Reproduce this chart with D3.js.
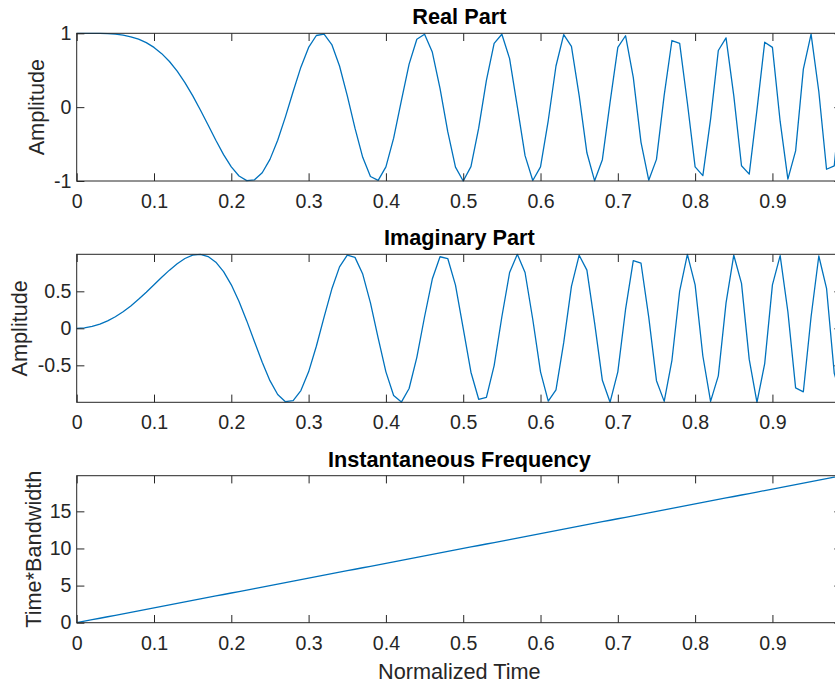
<!DOCTYPE html>
<html>
<head>
<meta charset="utf-8">
<script src="https://cdn.jsdelivr.net/npm/d3@7"></script>
<style>
  html, body { margin: 0; padding: 0; background: #fff; overflow: hidden; }
  svg { display: block; font-family: "Liberation Sans", Arial, Helvetica, sans-serif; }
</style>
</head>
<body>
<svg id="chart" width="835" height="684"></svg>
<script>
// ---- data ----
const time = [0,0.01,0.02,0.03,0.04,0.05,0.06,0.07,0.08,0.09,
  0.10,0.11,0.12,0.13,0.14,0.15,0.16,0.17,0.18,0.19,
  0.20,0.21,0.22,0.23,0.24,0.25,0.26,0.27,0.28,0.29,
  0.30,0.31,0.32,0.33,0.34,0.35,0.36,0.37,0.38,0.39,
  0.40,0.41,0.42,0.43,0.44,0.45,0.46,0.47,0.48,0.49,
  0.50,0.51,0.52,0.53,0.54,0.55,0.56,0.57,0.58,0.59,
  0.60,0.61,0.62,0.63,0.64,0.65,0.66,0.67,0.68,0.69,
  0.70,0.71,0.72,0.73,0.74,0.75,0.76,0.77,0.78,0.79,
  0.80,0.81,0.82,0.83,0.84,0.85,0.86,0.87,0.88,0.89,
  0.90,0.91,0.92,0.93,0.94,0.95,0.96,0.97,0.98,0.99];

const realPart = [1,1.0000,0.9997,0.9984,0.9950,0.9877,0.9745,0.9530,0.9202,0.8733,
  0.8090,0.7244,0.6180,0.4872,0.3328,0.1564,-0.0377,-0.2426,-0.4484,-0.6423,
  -0.8090,-0.9321,-0.9950,-0.9834,-0.8882,-0.7071,-0.4484,-0.1316,0.2120,0.5417,
  0.8090,0.9701,0.9887,0.8477,0.5570,0.1564,-0.2850,-0.6800,-0.9387,-0.9913,
  -0.8090,-0.4200,0.0878,0.5828,0.9203,0.9877,0.7461,0.2548,-0.3328,-0.8127,
  -1,-0.8053,-0.2850,0.3622,0.8639,0.9877,0.6567,0.0063,-0.6567,-0.9929,
  -0.8090,-0.1812,0.5568,0.9811,0.8237,0.1564,-0.6180,-0.9976,-0.7115,0.0691,
  0.8090,0.9670,0.4029,-0.4763,-0.9887,-0.7071,0.1626,0.9022,0.8639,0.0565,
  -0.8090,-0.9275,-0.1626,0.7669,0.9387,0.1564,-0.7940,-0.9075,-0.0377,0.8794,
  0.8090,-0.1936,-0.9745,-0.5928,0.5144,0.9877,0.2120,-0.8410,-0.7940,0.3150];

const imagPart = [0,0.0063,0.0251,0.0565,0.1004,0.1564,0.2243,0.3030,0.3914,0.4872,
  0.5878,0.6893,0.7861,0.8733,0.9430,0.9877,0.9993,0.9701,0.8938,0.7664,
  0.5878,0.3622,0.1004,-0.1812,-0.4596,-0.7071,-0.8938,-0.9913,-0.9773,-0.8406,
  -0.5878,-0.2426,0.1502,0.5305,0.8305,0.9877,0.9585,0.7332,0.3446,-0.1316,
  -0.5878,-0.9075,-0.9961,-0.8126,-0.3914,0.1564,0.6658,0.9670,0.9430,0.5827,
  0,-0.5928,-0.9585,-0.9321,-0.5036,0.1564,0.7541,1.0000,0.7541,0.1191,
  -0.5878,-0.9834,-0.8306,-0.1936,0.5672,0.9877,0.7861,0.0691,-0.7026,-0.9976,
  -0.5878,0.2548,0.9152,0.8793,0.1502,-0.7071,-0.9867,-0.4314,0.5036,0.9984,
  0.5878,-0.3739,-0.9867,-0.6420,0.3446,0.9877,0.6080,-0.4200,-0.9993,-0.4762,
  0.5878,0.9811,0.2243,-0.8053,-0.8575,0.1564,0.9773,0.5410,-0.6080,-0.9491];

const instFreq = [0,0.2,0.4,0.6,0.8,1.0,1.2,1.4,1.6,1.8,
  2.0,2.2,2.4,2.6,2.8,3.0,3.2,3.4,3.6,3.8,
  4.0,4.2,4.4,4.6,4.8,5.0,5.2,5.4,5.6,5.8,
  6.0,6.2,6.4,6.6,6.8,7.0,7.2,7.4,7.6,7.8,
  8.0,8.2,8.4,8.6,8.8,9.0,9.2,9.4,9.6,9.8,
  10.0,10.2,10.4,10.6,10.8,11.0,11.2,11.4,11.6,11.8,
  12.0,12.2,12.4,12.6,12.8,13.0,13.2,13.4,13.6,13.8,
  14.0,14.2,14.4,14.6,14.8,15.0,15.2,15.4,15.6,15.8,
  16.0,16.2,16.4,16.6,16.8,17.0,17.2,17.4,17.6,17.8,
  18.0,18.2,18.4,18.6,18.8,19.0,19.2,19.4,19.6,19.8];

const xTicks = [0,0.1,0.2,0.3,0.4,0.5,0.6,0.7,0.8,0.9];
const realTicks = [-1,0,1];
const imagTicks = [-0.5,0,0.5];
const freqTicks = [0,5,10,15];

const titles = ["Real Part", "Imaginary Part", "Instantaneous Frequency"];
const yLabels = ["Amplitude", "Amplitude", "Time*Bandwidth"];
const xLabel = "Normalized Time";

// ---- layout ----
const svg = d3.select("#chart");
const X0 = 76.7, X1 = 842;
const TICK = 7.7;
const AX = "#262626";
const LINE = "#0072BD";
const TICKFONT = 19.6, LABFONT = 21.7;

const x = d3.scaleLinear().domain([0, 0.99]).range([X0, X1]);

const panels = [
  { top: 33.3, bottom: 181, series: realPart, ticks: realTicks, domain: [-1, 1], labX: 44, title: titles[0], ylab: yLabels[0] },
  { top: 254.3, bottom: 402.3, series: imagPart, ticks: imagTicks, domain: d3.extent(imagPart), labX: 26.5, title: titles[1], ylab: yLabels[1] },
  { top: 475.7, bottom: 622.7, series: instFreq, ticks: freqTicks, domain: [0, d3.max(instFreq)], labX: 40.5, title: titles[2], ylab: yLabels[2] }
];

function styleAxis(g, showText) {
  g.select(".domain").remove();
  g.selectAll(".tick line").attr("stroke", AX).attr("stroke-width", 1);
  g.selectAll(".tick text").attr("fill", AX).style("font-size", TICKFONT + "px");
  if (!showText) g.selectAll(".tick text").remove();
}

panels.forEach((p, i) => {
  const y = d3.scaleLinear().domain(p.domain).range([p.bottom, p.top]);
  const g = svg.append("g");
  const clipId = "clip" + i;
  svg.append("clipPath").attr("id", clipId).append("rect")
    .attr("x", X0).attr("y", p.top - 1).attr("width", X1 - X0).attr("height", p.bottom - p.top + 2);

  // line
  const line = d3.line().x((d, k) => x(time[k])).y(d => y(d));
  g.append("path").datum(p.series)
    .attr("clip-path", `url(#${clipId})`)
    .attr("fill", "none").attr("stroke", LINE).attr("stroke-width", 1.3)
    .attr("stroke-linejoin", "round")
    .attr("d", line);

  // axes
  g.append("g").attr("transform", `translate(0,${p.bottom})`)
    .call(d3.axisBottom(x).tickValues(xTicks).tickSizeInner(-TICK).tickSizeOuter(0).tickPadding(13).tickFormat(d => String(d)))
    .call(a => styleAxis(a, true));
  g.append("g").attr("transform", `translate(0,${p.top})`)
    .call(d3.axisTop(x).tickValues(xTicks).tickSizeInner(-TICK).tickSizeOuter(0))
    .call(a => styleAxis(a, false));
  g.append("g").attr("transform", `translate(${X0},0)`)
    .call(d3.axisLeft(y).tickValues(p.ticks).tickSizeInner(-TICK).tickSizeOuter(0).tickPadding(5.2).tickFormat(d => String(d)))
    .call(a => styleAxis(a, true));
  g.append("g").attr("transform", `translate(${X1},0)`)
    .call(d3.axisRight(y).tickValues(p.ticks).tickSizeInner(-TICK).tickSizeOuter(0))
    .call(a => styleAxis(a, false));

  // box
  g.append("rect").attr("x", X0).attr("y", p.top)
    .attr("width", X1 - X0).attr("height", p.bottom - p.top)
    .attr("fill", "none").attr("stroke", AX).attr("stroke-width", 1);

  // title
  g.append("text").attr("x", (X0 + X1) / 2).attr("y", p.top - 9)
    .attr("text-anchor", "middle").attr("fill", "#000")
    .style("font-size", LABFONT + "px").style("font-weight", "bold")
    .text(p.title);

  // y label
  g.append("text")
    .attr("transform", `translate(${p.labX},${(p.top + p.bottom) / 2}) rotate(-90)`)
    .attr("text-anchor", "middle").attr("fill", AX)
    .style("font-size", LABFONT + "px")
    .text(p.ylab);
});

svg.append("text").attr("x", (X0 + X1) / 2).attr("y", 679)
  .attr("text-anchor", "middle").attr("fill", AX)
  .style("font-size", LABFONT + "px")
  .text(xLabel);
</script>
</body>
</html>
